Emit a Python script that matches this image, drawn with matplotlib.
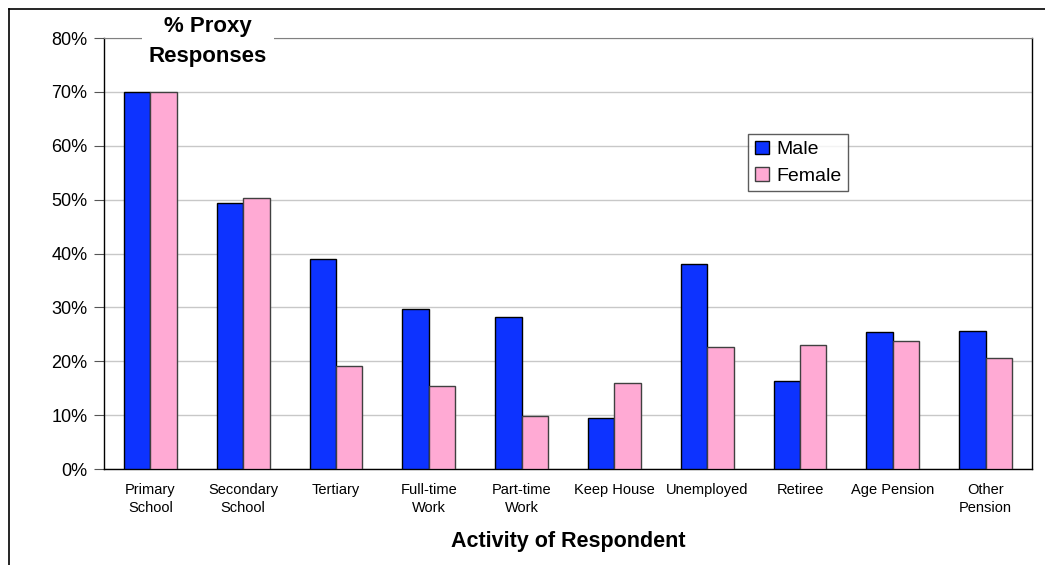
import matplotlib.pyplot as plt
import numpy as np
from matplotlib.lines import Line2D
from matplotlib.patches import Patch

plt.rcParams['font.family'] = ['Liberation Sans', 'DejaVu Sans']

categories = ["Primary\nSchool", "Secondary\nSchool", "Tertiary", "Full-time\nWork",
              "Part-time\nWork", "Keep House", "Unemployed", "Retiree",
              "Age Pension", "Other\nPension"]
male = [70.0, 49.4, 39.0, 29.7, 28.2, 9.5, 38.0, 16.3, 25.4, 25.6]
female = [70.0, 50.3, 19.1, 15.4, 9.8, 16.0, 22.6, 23.0, 23.7, 20.6]

blue = "#0D33FF"
pink = "#FFAAD4"

fig = plt.figure(figsize=(10.45, 5.65), dpi=100)
ax = fig.add_axes([0.0995, 0.1699, 0.8880, 0.7628])

x = np.arange(len(categories))
w = 0.285
ax.bar(x - w / 2, male, w, color=blue, edgecolor="black", linewidth=1.0, zorder=3)
ax.bar(x + w / 2, female, w, color=pink, edgecolor="#404040", linewidth=1.0, zorder=3)

ax.set_xlim(-0.5, len(categories) - 0.5)
ax.set_ylim(0, 80)
ax.set_yticks(np.arange(0, 81, 10))
ax.set_yticklabels([f"{v}%" for v in range(0, 81, 10)], fontsize=13)
ax.yaxis.grid(True, color="#C8C8C8", linewidth=1.0, zorder=0)
ax.tick_params(axis="y", direction="out", length=7, color="#555555", pad=5)
ax.set_xticks(x)
ax.set_xticklabels(categories, fontsize=10.5, linespacing=1.4)
ax.tick_params(axis="x", length=0, pad=10)

for side in ["left", "bottom", "right"]:
    ax.spines[side].set_color("black")
    ax.spines[side].set_linewidth(1.0)
ax.spines["top"].set_color("#808080")

ax.set_xlabel("Activity of Respondent", fontsize=15.5, fontweight="bold", labelpad=11)

# chart title sits on top of the upper frame line
fig.text(0.199, 0.926, "% Proxy\nResponses", fontsize=16, fontweight="bold",
         ha="center", va="center", linespacing=1.55,
         bbox=dict(facecolor="white", edgecolor="none", pad=5))

handles = [Patch(facecolor=blue, edgecolor="black"),
           Patch(facecolor=pink, edgecolor="#404040")]
leg = fig.legend(handles, ["Male", "Female"], loc="upper left",
                 bbox_to_anchor=(0.716, 0.763), fontsize=14, frameon=True,
                 fancybox=False, edgecolor="#333333", handlelength=0.7,
                 handleheight=0.7, handletextpad=0.4, borderpad=0.35,
                 labelspacing=0.45, borderaxespad=0)
leg.get_frame().set_linewidth(1.0)

# outer chart border
fig.add_artist(Line2D([0.0086, 1.0], [0.984, 0.984], transform=fig.transFigure,
                      color="black", linewidth=1.2))
fig.add_artist(Line2D([0.0086, 0.0086], [0.0, 0.984], transform=fig.transFigure,
                      color="black", linewidth=1.2))

fig.savefig("out.png", dpi=100)
